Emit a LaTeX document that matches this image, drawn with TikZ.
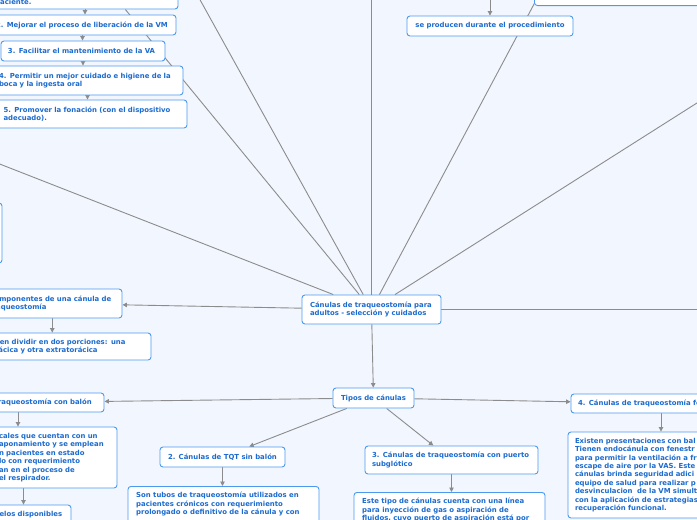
\documentclass[tikz,border=0pt]{standalone}
\usepackage{fontspec}
\newfontfamily\mmfont{DejaVu Sans}
\usetikzlibrary{arrows.meta}
\definecolor{bgc}{HTML}{F2F6FE}
\definecolor{bordc}{HTML}{4C9AEE}
\definecolor{txtc}{HTML}{1C6BCF}
\definecolor{lnc}{HTML}{8C8C8C}
\pgfdeclarelayer{back}
\pgfsetlayers{back,main}
\tikzset{
  mmtext/.style={font=\mmfont\bfseries\fontsize{6.9}{8.4}\selectfont, text=txtc},
  box/.style={mmtext, draw=bordc, fill=white, line width=0.9pt, rounded corners=3pt,
              inner xsep=8pt, inner ysep=2pt, align=left},
  txt/.style={mmtext, inner sep=0pt, align=left},
  ln/.style={draw=lnc, line width=0.9pt},
  arr/.style={ln, -{Triangle[length=4.5pt,width=4.5pt]}},
}
\begin{document}
\begin{tikzpicture}[x=1pt,y=-1pt]
\useasboundingbox (0,0) rectangle (697,520);
% ---------- top-left chain ----------
\node[box, text width=170pt, minimum height=98pt] (A) at (85,-40) {};
\node[txt, anchor=base west] (At) at (-5,4) {paciente.};
\node[box, text width=173pt, minimum height=20pt, inner xsep=7pt] (B) at (82.5,25) {2. Mejorar el proceso de liberación de la VM};
\node[box, text width=150pt, minimum height=20pt, inner xsep=7pt] (C) at (83,51) {3. Facilitar el mantenimiento de la VA};
\node[box, text width=177pt, minimum height=29pt, inner xsep=7pt] (D) at (87.5,80.5) {4. Permitir un mejor cuidado e higiene de la\\boca y la ingesta oral};
\node[box, text width=176.5pt, minimum height=28pt, inner xsep=7pt] (E) at (91.75,114) {5. Promover la fonación (con el dispositivo\\adecuado).};
% ---------- top right ----------
\node[box, minimum width=230pt, minimum height=80pt, anchor=south west] (TR) at (534,6) {};
\node[box, minimum width=166pt, minimum height=20pt, align=center] (SP) at (490,26) {se producen durante el procedimiento};
% ---------- left side ----------
\node[box, minimum width=60pt, minimum height=60pt] (P) at (-28,233) {};
\node[box, text width=125.5pt, minimum height=29pt, inner xsep=7pt] (Cm) at (52.25,303.5) {Componentes de una cánula de\\traqueostomía};
\node[box, text width=175.6pt, minimum height=27pt, inner xsep=7pt] (Sp) at (56.2,346.5) {Se pueden dividir en dos porciones: una\\intratorácica y otra extratorácica};
% ---------- central ----------
\node[box, text width=123pt, minimum height=29pt, inner xsep=8pt] (c) at (371.5,309.5) {Cánulas de traqueostomía para\\adultos - selección y cuidados};
\node[box, minimum width=81pt, minimum height=20pt, align=center] (T) at (373.5,398) {Tipos de cánulas};
% ---------- types ----------
\node[box, text width=158pt, minimum height=19pt, inner xsep=7pt] (B1) at (18,402.5) {1. Cánulas de traqueostomía con balón};
\node[box, text width=111pt, minimum height=61pt, inner xsep=7pt] (D1) at (54.5,457.5) {cales que cuentan con un\\aponamiento y se emplean\\n pacientes en estado\\lo con requerimiento\\an en el proceso de\\el respirador.};
\node[box, text width=81pt, minimum height=20pt, inner xsep=7pt] (M) at (23.5,515) {Modelos disponibles};
\node[box, minimum width=125pt, minimum height=20pt, align=center] (B2) at (222.5,457) {2. Cánulas de TQT sin balón};
\node[box, minimum width=191pt, minimum height=60pt, anchor=north] (D2) at (223.5,486) {};
\node[txt, anchor=north west] (D2t) at (136,492) {Son tubos de traqueostomía utilizados en\\pacientes crónicos con requerimiento\\prolongado o definitivo de la cánula y con};
\node[box, text width=159pt, minimum height=28pt, inner xsep=7pt] (B3) at (451.5,460) {3. Cánulas de traqueostomía con puerto\\subglótico};
\node[box, minimum width=191pt, minimum height=60pt, anchor=north] (D3) at (449.5,492) {};
\node[txt, anchor=north west] (D3t) at (362,498) {Este tipo de cánulas cuenta con una línea\\para inyección de gas o aspiración de\\fluidos, cuyo puerto de aspiración está por};
\node[box, text width=166pt, minimum height=19pt, inner xsep=7pt] (B4) at (661,403.5) {4. Cánulas de traqueostomía fenestradas};
\node[box, text width=178pt, minimum height=86pt, inner xsep=7pt] (D4) at (664,475) {Existen presentaciones con bal\\Tienen endocánula con fenestr\\para permitir la ventilación a fr\\escape de aire por la VAS. Este\\cánulas brinda seguridad adici\\equipo de salud para realizar p\\desvinculacion\ \ de la VM simult\\con la aplicación de estrategias\\recuperación funcional.};
% ---------- free ends ----------
\coordinate (L1) at (-100,125);
\coordinate (L3) at (178,-40);
\coordinate (L4) at (371.5,-40);
\coordinate (L5) at (557.5,-40);
\coordinate (L7) at (760,63);
\coordinate (L8) at (760,309.5);
\coordinate (S0) at (490,-10);
% ---------- connectors ----------
\begin{pgfonlayer}{back}
\fill[bgc] (-200,-200) rectangle (900,700);
\draw[ln] (L1) -- (c);
\draw[ln] (A) -- (c);
\draw[ln] (L3) -- (c);
\draw[ln] (L4) -- (c);
\draw[ln] (L5) -- (c);
\draw[ln] (L7) -- (c);
\draw[ln] (L8) -- (c);
\draw[arr] (S0) -- (SP.north);
\draw[arr] (A.south) -- (A.south |- B.north);
\draw[arr] (B.south) -- (B.south |- C.north);
\draw[arr] (C.south) -- (C.south |- D.north);
\draw[arr] (D.south) -- (D.south |- E.north);
\draw[arr] (c) -- (Cm);
\draw[arr] (Cm.south) -- (Cm.south |- Sp.north);
\draw[arr] (c) -- (T);
\draw[arr] (T) -- (B1);
\draw[arr] (T) -- (B2);
\draw[arr] (T) -- (B3);
\draw[arr] (T) -- (B4);
\draw[arr] (B1.south) -- (B1.south |- D1.north);
\draw[arr] (D1.south -| M.north) -- (M.north);
\draw[arr] (B2.south) -- (B2.south |- D2.north);
\draw[arr] (B3.south) -- (B3.south |- D3.north);
\draw[arr] (B4.south) -- (B4.south |- D4.north);
\end{pgfonlayer}
\end{tikzpicture}
\end{document}
